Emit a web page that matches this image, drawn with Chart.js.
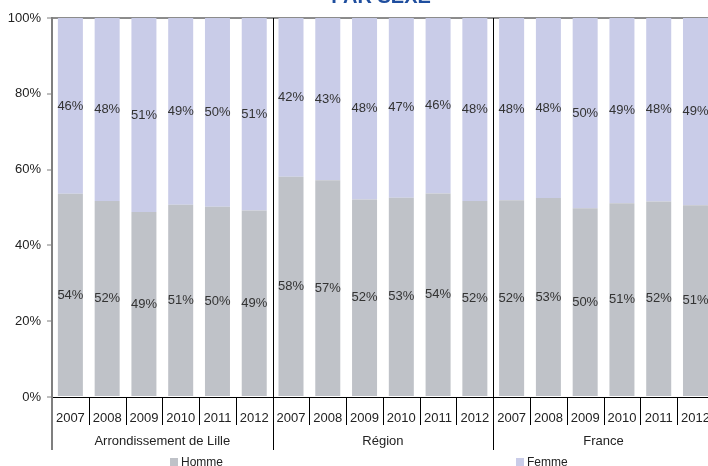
<!DOCTYPE html>
<html>
<head>
<meta charset="utf-8">
<script src="https://cdn.jsdelivr.net/npm/chart.js@4"></script>
<style>
html,body{margin:0;padding:0;background:#fff;overflow:hidden;}
#wrap{width:716px;height:466px;}
</style>
</head>
<body>
<div id="wrap"><canvas id="c" width="716" height="466"></canvas></div>
<script>
const years = ['2007','2008','2009','2010','2011','2012','2007','2008','2009','2010','2011','2012','2007','2008','2009','2010','2011','2012'];
const groups = ['Arrondissement de Lille','Région','France'];
const homme = [53.6, 51.7, 48.8, 50.7, 50.2, 49.2, 58.1, 57.2, 52.1, 52.6, 53.7, 51.7, 51.9, 52.5, 49.8, 51.1, 51.6, 50.6];
const femme = [46.4, 48.3, 51.2, 49.3, 49.8, 50.8, 41.9, 42.8, 47.9, 47.4, 46.3, 48.3, 48.1, 47.5, 50.2, 48.9, 48.4, 49.4];
const yTicks = [0, 20, 40, 60, 80, 100];
const title = 'PAR SEXE';

const FONT = "'Liberation Sans', Arial, sans-serif";
Chart.defaults.font.family = FONT;

const overlay = {
  id: 'overlay',
  afterDraw(chart) {
    const ctx = chart.ctx, xs = chart.scales.x, ca = chart.chartArea;
    ctx.save();
    // value labels
    ctx.font = '13px ' + FONT;
    ctx.fillStyle = '#333';
    ctx.textAlign = 'center';
    ctx.textBaseline = 'middle';
    chart.data.datasets.forEach((ds, di) => {
      chart.getDatasetMeta(di).data.forEach((bar, i) => {
        ctx.fillText(Math.round(ds.data[i]) + '%', bar.x, (bar.y + bar.base) / 2);
      });
    });
    // separators
    const half = (xs.getPixelForValue(1) - xs.getPixelForValue(0)) / 2;
    ctx.strokeStyle = '#000';
    ctx.lineWidth = 1;
    for (let i = 1; i < years.length; i++) {
      const px = Math.round(xs.getPixelForValue(i) - half) + 0.5;
      const grp = i % 6 === 0;
      ctx.beginPath();
      ctx.moveTo(px, grp ? ca.top : ca.bottom);
      ctx.lineTo(px, grp ? 450 : 425);
      ctx.stroke();
    }
    // y axis extension
    ctx.strokeStyle = '#7f7f7f';
    ctx.lineWidth = 2;
    ctx.beginPath();
    ctx.moveTo(ca.left, ca.bottom);
    ctx.lineTo(ca.left, 450);
    ctx.stroke();
    // group labels
    ctx.fillStyle = '#222';
    ctx.font = '13px ' + FONT;
    groups.forEach((g, gi) => {
      const cx = (xs.getPixelForValue(gi * 6 + 2) + xs.getPixelForValue(gi * 6 + 3)) / 2;
      ctx.fillText(g, cx, 441);
    });
    // legend
    ctx.font = '12px ' + FONT;
    const legendX = [170, 516];
    chart.data.datasets.forEach((ds, di) => {
      ctx.fillStyle = ds.backgroundColor;
      ctx.fillRect(legendX[di], 458, 8, 8);
      ctx.fillStyle = '#222';
      ctx.textAlign = 'left';
      ctx.fillText(ds.label, legendX[di] + 11, 463);
    });
    // title
    ctx.font = 'bold 20px ' + FONT;
    ctx.fillStyle = '#1F4E9E';
    ctx.textAlign = 'center';
    ctx.textBaseline = 'alphabetic';
    ctx.fillText(title, 381, 3);
    ctx.restore();
  }
};

new Chart(document.getElementById('c'), {
  type: 'bar',
  data: {
    labels: years,
    datasets: [
      { label: 'Homme', data: homme, backgroundColor: '#bfc2c8', categoryPercentage: 1, barPercentage: 0.68 },
      { label: 'Femme', data: femme, backgroundColor: '#c9cce8', categoryPercentage: 1, barPercentage: 0.68 }
    ]
  },
  options: {
    responsive: false,
    animation: false,
    layout: { padding: { top: 18, right: 2, left: 0, bottom: 0 } },
    plugins: { legend: { display: false }, tooltip: { enabled: false }, title: { display: false } },
    scales: {
      x: {
        stacked: true,
        grid: { display: false },
        border: { display: true, color: '#000', width: 1 },
        ticks: { color: '#222', font: { size: 13 }, padding: 6, maxRotation: 0, autoSkip: false },
        afterFit: s => { s.height = 69; }
      },
      y: {
        stacked: true,
        min: 0, max: 100,
        afterBuildTicks: s => { s.ticks = yTicks.map(v => ({ value: v })); },
        ticks: { color: '#222', font: { size: 13 }, padding: 6, callback: v => v + '%' },
        grid: {
          drawOnChartArea: true,
          color: c => (c.tick && c.tick.value === 100) ? '#8c8c8c' : 'rgba(0,0,0,0)',
          lineWidth: 2,
          tickColor: '#7f7f7f',
          tickWidth: 1,
          tickLength: 5
        },
        border: { display: true, color: '#7f7f7f', width: 2 },
        afterFit: s => { s.width = 52; }
      }
    }
  },
  plugins: [overlay]
});
</script>
</body>
</html>
